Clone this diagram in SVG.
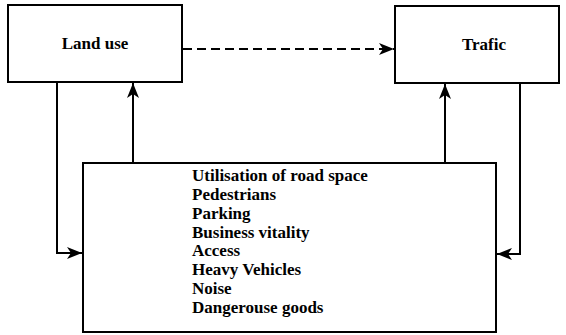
<svg xmlns="http://www.w3.org/2000/svg" width="566" height="335" viewBox="0 0 566 335">
<style>
.box{fill:#fff;stroke:#000;stroke-width:2}
.ln{fill:none;stroke:#000;stroke-width:2}
.t{font-family:"Liberation Serif","DejaVu Serif","Noto Serif",serif;font-size:17px;font-weight:bold;fill:#000}
</style>
<defs>
<marker id="ah" viewBox="0 0 15 12" refX="15" refY="6" markerWidth="15" markerHeight="12" markerUnits="userSpaceOnUse" orient="auto">
<path d="M0,0 L15,6 L0,12 L4,6 Z" fill="#000"/>
</marker>
</defs>
<g id="land-use">
<rect class="box" x="8" y="5" width="174" height="77"/>
<text class="t" x="95" y="49" text-anchor="middle">Land use</text>
</g>
<g id="trafic">
<rect class="box" x="395" y="6" width="164" height="77"/>
<text class="t" x="484" y="50" text-anchor="middle">Trafic</text>
</g>
<g id="factors">
<rect class="box" x="83" y="163" width="413" height="169"/>
<text class="t" x="192" y="181">Utilisation of road space</text>
<text class="t" x="192" y="200">Pedestrians</text>
<text class="t" x="192" y="219">Parking</text>
<text class="t" x="192" y="238">Business vitality</text>
<text class="t" x="192" y="256">Access</text>
<text class="t" x="192" y="275">Heavy Vehicles</text>
<text class="t" x="192" y="294">Noise</text>
<text class="t" x="192" y="313">Dangerouse goods</text>
</g>
<g id="connectors">
<line class="ln" x1="183" y1="49" x2="394" y2="49" stroke-dasharray="9,5" marker-end="url(#ah)"/>
<polyline class="ln" points="57,82 57,253 82,253" marker-end="url(#ah)"/>
<line class="ln" x1="133" y1="163" x2="133" y2="83" marker-end="url(#ah)"/>
<line class="ln" x1="445" y1="163" x2="445" y2="84" marker-end="url(#ah)"/>
<polyline class="ln" points="520,83 520,254 497,254" marker-end="url(#ah)"/>
</g>
</svg>
